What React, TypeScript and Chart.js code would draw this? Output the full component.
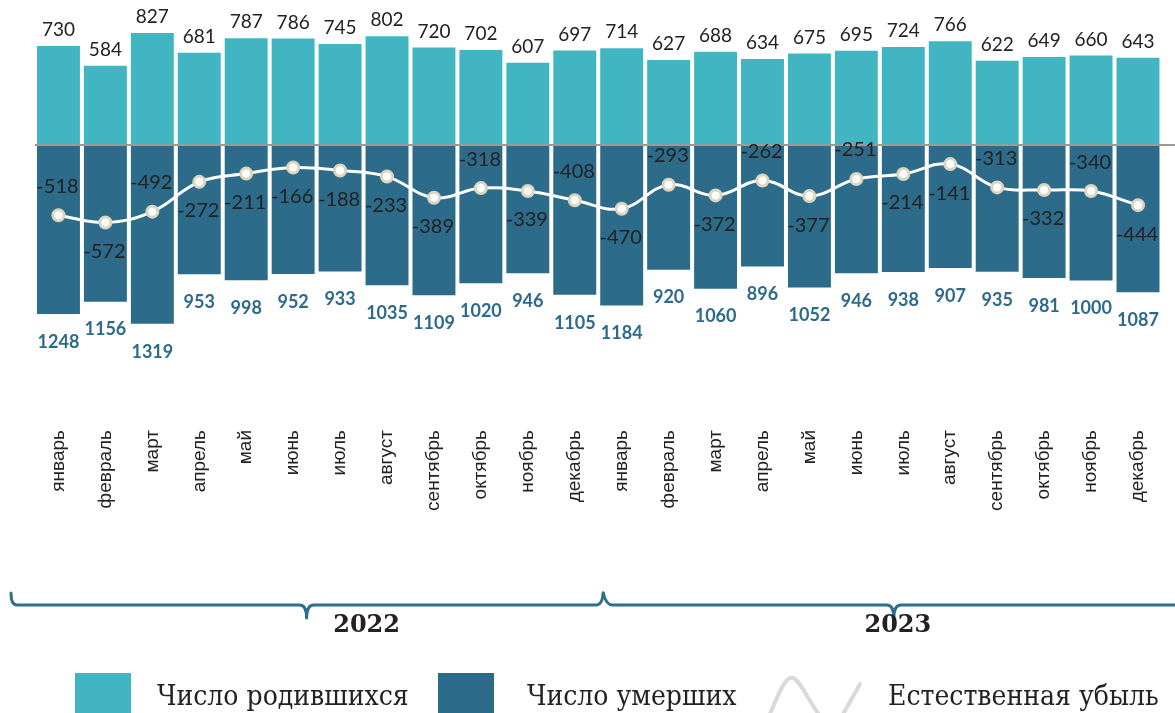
import React, { useEffect, useRef } from 'react';
import { Chart, registerables } from 'chart.js';
Chart.register(...registerables);

const months = ['январь','февраль','март','апрель','май','июнь','июль','август','сентябрь','октябрь','ноябрь','декабрь',
  'январь','февраль','март','апрель','май','июнь','июль','август','сентябрь','октябрь','ноябрь','декабрь'];
const births = [730,584,827,681,787,786,745,802,720,702,607,697,714,627,688,634,675,695,724,766,622,649,660,643];
const deaths = [1248,1156,1319,953,998,952,933,1035,1109,1020,946,1105,1184,920,1060,896,1052,946,938,907,935,981,1000,1087];
const naturalDecrease = [-518,-572,-492,-272,-211,-166,-188,-233,-389,-318,-339,-408,-470,-293,-372,-262,-377,-251,-214,-141,-313,-332,-340,-444];
const years = ['2022', '2023'];
const monthsPerYear = 12;
const legendLabels = ['Число родившихся', 'Число умерших', 'Естественная убыль'];

// style: where each natural-decrease label sits relative to its point
const lineLabelSide = ['up','down','up','down','down','down','down','down','down','up','down','up',
  'down','up','down','up','down','up','down','down','up','down','up','down'];
const yearTextShift = [60, 4];

const BIRTH_COLOR = '#41b6c2';
const DEATH_COLOR = '#2d6b8a';
const BRACKET_COLOR = '#2e6f8e';

const overlay = {
  id: 'overlay',
  afterDatasetsDraw(chart: any) {
    const { ctx, chartArea } = chart;
    const x = chart.scales.x;
    const y = chart.scales.y;
    const y0 = y.getPixelForValue(0);
    ctx.save();
    // zero line
    ctx.strokeStyle = '#9a9a9a';
    ctx.lineWidth = 2;
    ctx.beginPath();
    ctx.moveTo(chartArea.left, y0);
    ctx.lineTo(chart.width, y0);
    ctx.stroke();

    ctx.textAlign = 'center';
    ctx.textBaseline = 'middle';
    // births labels
    ctx.font = '19px Lato, "Open Sans", sans-serif';
    ctx.fillStyle = '#222';
    births.forEach((v, i) => {
      ctx.fillText(String(v), x.getPixelForValue(i), y.getPixelForValue(v) - 16);
    });
    // deaths labels
    ctx.font = 'bold 18px Lato, "Open Sans", sans-serif';
    ctx.fillStyle = DEATH_COLOR;
    deaths.forEach((v, i) => {
      ctx.fillText(String(v), x.getPixelForValue(i), y.getPixelForValue(-v) + 28);
    });
    ctx.restore();
  },
  afterDraw(chart: any) {
    const { ctx } = chart;
    const x = chart.scales.x;
    const y = chart.scales.y;
    ctx.save();
    // line labels (drawn on top)
    ctx.textAlign = 'center';
    ctx.textBaseline = 'middle';
    ctx.font = '20px Lato, "Open Sans", sans-serif';
    ctx.fillStyle = '#222';
    naturalDecrease.forEach((v, i) => {
      const py = y.getPixelForValue(v);
      const dy = lineLabelSide[i] === 'up' ? -29 : 29;
      ctx.fillText(String(v), x.getPixelForValue(i) - 1, py + dy);
    });

    // year brackets
    const step = x.getPixelForValue(1) - x.getPixelForValue(0);
    const by = 605;
    ctx.strokeStyle = BRACKET_COLOR;
    ctx.lineWidth = 3;
    ctx.lineJoin = 'round';
    ctx.lineCap = 'round';
    years.forEach((yr, k) => {
      const firstIdx = k * monthsPerYear;
      const lastIdx = firstIdx + monthsPerYear - 1;
      const start = x.getPixelForValue(firstIdx) - step / 2 + (k === 0 ? -24 : 8);
      const end = x.getPixelForValue(lastIdx) + step / 2 + (k === years.length - 1 ? 20 : 4);
      const mid = (start + end) / 2;
      ctx.beginPath();
      ctx.moveTo(start - (k === 0 ? 0 : 3), by - 12);
      ctx.quadraticCurveTo(start, by, start + 6, by);
      ctx.lineTo(mid - 7, by);
      ctx.quadraticCurveTo(mid, by, mid, by + 13);
      ctx.quadraticCurveTo(mid, by, mid + 7, by);
      if (k === years.length - 1) {
        ctx.lineTo(end, by);
      } else {
        ctx.lineTo(end - 6, by);
        ctx.quadraticCurveTo(end, by, end + 1, by - 12);
      }
      ctx.stroke();
      ctx.fillStyle = '#222';
      ctx.font = 'bold 24px "DejaVu Serif", serif';
      ctx.textAlign = 'center';
      ctx.textBaseline = 'middle';
      ctx.fillText(yr, mid + yearTextShift[k], 626);
    });

    // legend
    const ly = 673;
    ctx.fillStyle = BIRTH_COLOR;
    ctx.fillRect(75, ly, 56, 50);
    ctx.fillStyle = DEATH_COLOR;
    ctx.fillRect(438, ly, 56, 50);
    ctx.strokeStyle = '#d9d9d9';
    ctx.lineWidth = 4;
    ctx.beginPath();
    ctx.moveTo(769, 716);
    ctx.bezierCurveTo(780, 690, 786, 676, 793, 678);
    ctx.bezierCurveTo(800, 680, 808, 700, 820, 716);
    ctx.stroke();
    ctx.beginPath();
    ctx.moveTo(842, 716);
    ctx.lineTo(860, 684);
    ctx.stroke();

    ctx.fillStyle = '#222';
    ctx.textAlign = 'left';
    ctx.textBaseline = 'alphabetic';
    ctx.font = '28px "DejaVu Serif Condensed", "Liberation Serif", serif';
    ctx.fillText(legendLabels[0], 157, 705);
    ctx.fillText(legendLabels[1], 527, 705);
    ctx.fillText(legendLabels[2], 888, 705);
    ctx.restore();
  },
};

export default function App() {
  const ref = useRef<HTMLCanvasElement>(null);
  useEffect(() => {
    const chart = new Chart(ref.current!, {
      type: 'bar',
      data: {
        labels: months,
        datasets: [
          {
            type: 'line',
            label: legendLabels[2],
            data: naturalDecrease,
            borderColor: '#ffffff',
            borderWidth: 3,
            tension: 0.4,
            pointRadius: 5.5,
            pointBorderWidth: 3,
            pointBorderColor: '#dcd5bf',
            pointBackgroundColor: '#ffffff',
            order: 0,
          } as any,
          {
            type: 'bar',
            label: legendLabels[0],
            data: births,
            backgroundColor: BIRTH_COLOR,
            grouped: false,
            barPercentage: 0.915,
            categoryPercentage: 1,
            order: 2,
          } as any,
          {
            type: 'bar',
            label: legendLabels[1],
            data: deaths.map((v) => -v),
            backgroundColor: DEATH_COLOR,
            grouped: false,
            barPercentage: 0.915,
            categoryPercentage: 1,
            order: 1,
          } as any,
        ],
      },
      options: {
        animation: false,
        responsive: true,
        maintainAspectRatio: false,
        layout: { padding: { left: 35, right: 10, top: 9.5, bottom: 0 } },
        plugins: { legend: { display: false }, tooltip: { enabled: false } },
        scales: {
          x: {
            grid: { display: false, drawTicks: false },
            border: { display: false },
            ticks: {
              autoSkip: false,
              minRotation: 90,
              maxRotation: 90,
              padding: 14,
              color: '#222',
              font: { family: '"Liberation Sans", Arial, sans-serif', size: 19 },
            },
            afterFit: (s: any) => { s.height = 297; },
          },
          y: { display: false, min: -2000, max: 1000 },
        },
      },
      plugins: [overlay],
    });
    return () => chart.destroy();
  }, []);
  return (
    <div style={{ position: 'fixed', left: 0, top: 0, width: 1175, height: 713, background: '#fff' }}>
      <canvas ref={ref} />
    </div>
  );
}
